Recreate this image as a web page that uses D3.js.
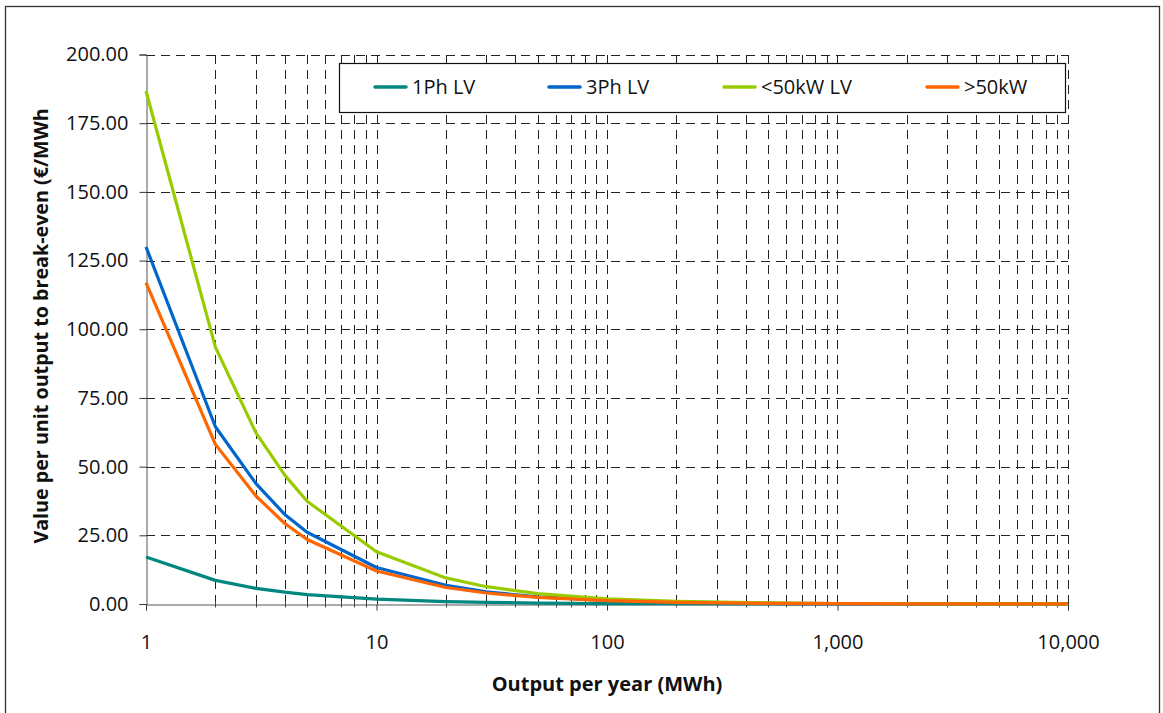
<!DOCTYPE html>
<html>
<head>
<meta charset="utf-8">
<script src="https://cdn.jsdelivr.net/npm/d3@7"></script>
<style>
  body { margin: 0; background: #fff; }
  svg { font-family: "Open Sans", "Noto Sans", sans-serif; }
</style>
</head>
<body>
<svg id="chart" width="1163" height="713"></svg>
<script>
// output per year (MWh)
var outputs = [1, 2, 3, 4, 5, 10, 20, 30, 50, 100, 200, 500, 1000, 2000, 5000, 10000];

var ph1LV   = [17.1, 8.6, 5.7, 4.3, 3.4, 1.8, 0.9, 0.6, 0.35, 0.17, 0.09, 0.03, 0.02, 0.01, 0.0, 0.0];
var ph3LV   = [130.0, 64.5, 43.8, 32.6, 26.1, 13.3, 6.8, 4.4, 2.6, 1.3, 0.65, 0.26, 0.13, 0.07, 0.03, 0.01];
var lt50kW  = [186.7, 93.5, 62.3, 46.9, 37.4, 19.0, 9.5, 6.3, 3.8, 1.9, 0.95, 0.38, 0.19, 0.09, 0.04, 0.02];
var gt50kW  = [117.0, 58.1, 39.3, 29.3, 23.5, 12.0, 6.0, 4.0, 2.4, 1.2, 0.6, 0.24, 0.12, 0.06, 0.02, 0.01];

var seriesNames = ["1Ph LV", "3Ph LV", "<50kW LV", ">50kW"];
var seriesColors = ["#00877f", "#0066cc", "#99cc00", "#ff6600"];
var seriesValues = [ph1LV, ph3LV, lt50kW, gt50kW];

var yTicks = [0, 25, 50, 75, 100, 125, 150, 175, 200];
var xMajor = [1, 10, 100, 1000, 10000];

var svg = d3.select("#chart");

// outer frame
svg.append("rect").attr("x", 5.5).attr("y", 6.5).attr("width", 1154).attr("height", 710)
  .attr("fill", "none").attr("stroke", "#333").attr("stroke-width", 1.3);

var x = d3.scaleLog().domain([1, 10000]).range([146, 1068]),
    y = d3.scaleLinear().domain([0, 200]).range([604, 54.5]);

// minor positions for vertical grid
var xMinor = [];
xMajor.slice(0, -1).forEach(function(d) {
  for (var k = 2; k <= 10; k++) xMinor.push(d * k);
});

var grid = svg.append("g").attr("stroke", "#222").attr("stroke-width", 1)
  .attr("stroke-dasharray", "9,6").attr("fill", "none").attr("shape-rendering", "crispEdges");

grid.selectAll("line.v").data(xMinor).enter().append("line").attr("class", "v")
  .attr("x1", d => Math.round(x(d)) + 0.5).attr("x2", d => Math.round(x(d)) + 0.5)
  .attr("y1", y(200)).attr("y2", y(0));

grid.selectAll("line.h").data(yTicks.slice(1)).enter().append("line").attr("class", "h")
  .attr("x1", x(1)).attr("x2", x(10000))
  .attr("y1", d => Math.round(y(d)) + 0.5).attr("y2", d => Math.round(y(d)) + 0.5);

// y axis
var yAxis = d3.axisLeft(y).tickValues(yTicks).tickFormat(d3.format(".2f")).tickSize(7).tickPadding(11);
var gy = svg.append("g").attr("transform", "translate(146.5,0)").call(yAxis);
gy.select(".domain").attr("stroke", "#555");
gy.selectAll(".tick line").attr("stroke", "#333");
gy.selectAll("text").attr("font-size", 20).attr("fill", "#111").attr("font-family", "Open Sans");

// x axis
var xAxis = d3.axisBottom(x).tickValues(xMajor).tickFormat(d3.format(",")).tickSize(6).tickPadding(24);
var gx = svg.append("g").attr("transform", "translate(0,604.5)").call(xAxis);
gx.select(".domain").attr("stroke", "#555");
gx.selectAll(".tick line").attr("stroke", "#333");
gx.selectAll("text").attr("font-size", 20).attr("fill", "#111").attr("font-family", "Open Sans");

gx.selectAll("line.minor").data(xMinor.filter(d => xMajor.indexOf(d) < 0)).enter().append("line")
  .attr("class", "minor").attr("x1", d => Math.round(x(d)) + 0.5).attr("x2", d => Math.round(x(d)) + 0.5)
  .attr("y1", -3).attr("y2", 3).attr("stroke", "#444");

// series
var line = d3.line().x((d, i) => x(outputs[i])).y(d => y(d));
svg.append("g").selectAll("path").data(seriesValues).enter().append("path")
  .attr("d", line).attr("fill", "none")
  .attr("stroke", (d, i) => seriesColors[i]).attr("stroke-width", 3.2)
  .attr("stroke-linejoin", "round");

// legend
var legend = svg.append("g");
legend.append("rect").attr("x", 339.5).attr("y", 63.5).attr("width", 726).attr("height", 49)
  .attr("fill", "#fff").attr("stroke", "#111").attr("stroke-width", 1.2);
var legX = [375, 549, 724, 927];
var items = legend.selectAll("g.item").data(seriesNames).enter().append("g").attr("class", "item")
  .attr("transform", (d, i) => "translate(" + legX[i] + ",87)");
items.append("line").attr("x1", 0).attr("x2", 31).attr("stroke", (d, i) => seriesColors[i])
  .attr("stroke-width", 3.5).attr("stroke-linecap", "round");
items.append("text").attr("x", 37).attr("dy", "0.36em").attr("font-size", 20).attr("fill", "#111")
  .text(d => d);

// axis titles
svg.append("text").attr("x", 607).attr("y", 691).attr("text-anchor", "middle")
  .attr("font-size", 20).attr("font-weight", "bold").attr("fill", "#111")
  .text("Output per year (MWh)");

svg.append("text").attr("transform", "translate(48,326) rotate(-90)").attr("text-anchor", "middle")
  .attr("font-size", 19.7).attr("font-weight", "bold").attr("fill", "#111")
  .text("Value per unit output to break-even (\u20ac/MWh");
</script>
</body>
</html>
